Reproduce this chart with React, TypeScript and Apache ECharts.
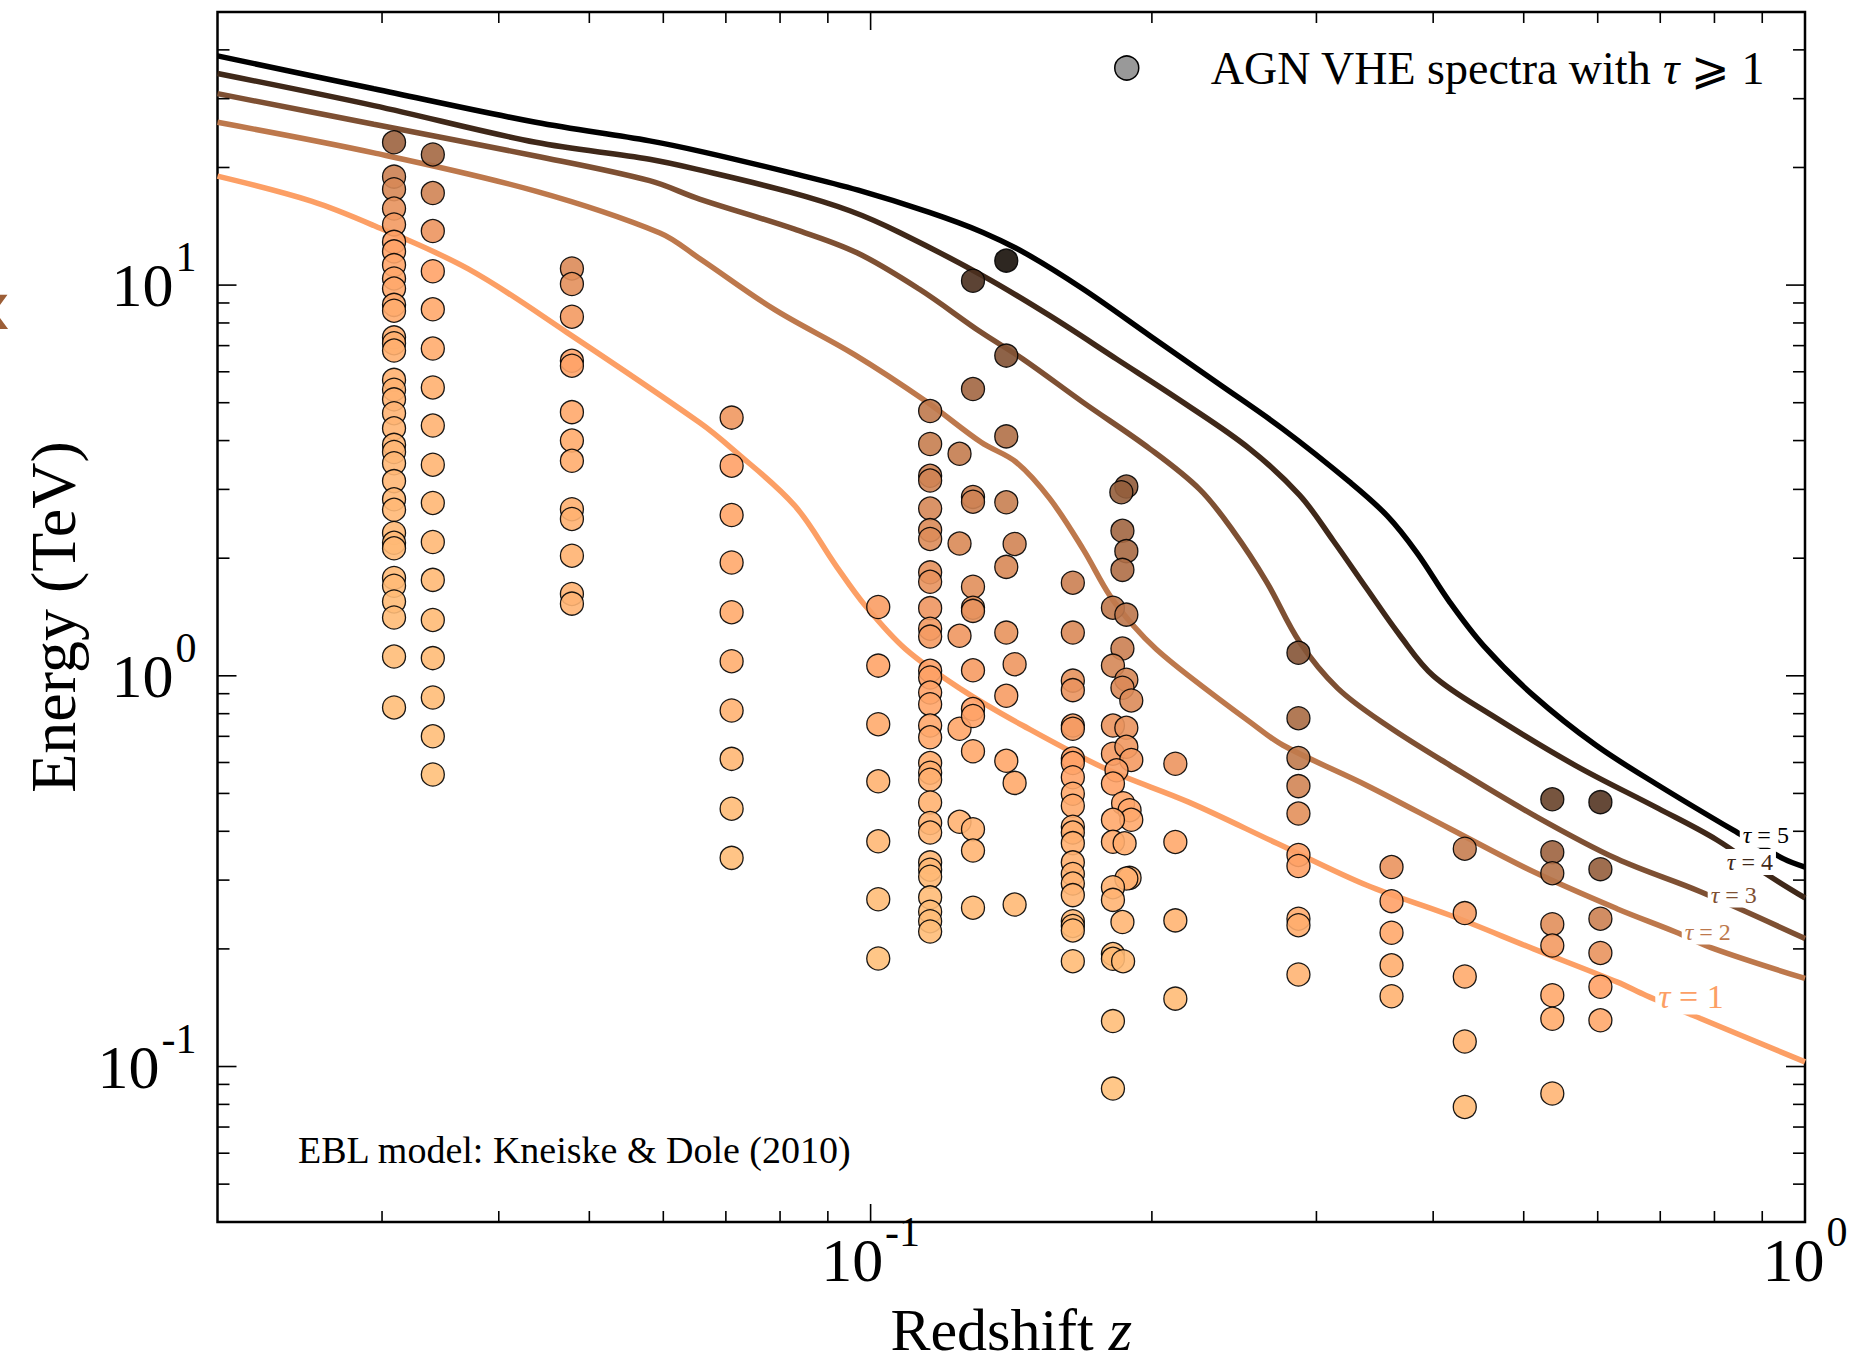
import React, { useEffect, useRef } from 'react';
import * as echarts from 'echarts';

const SERIF = '"Liberation Serif", "Times New Roman", Times, serif';
const LEGEND_NAME = 'AGN VHE spectra';

// Axis extents
const zAxisRange = [0.02, 1];
const eAxisRange = [0.04, 50];

// Tick positions (log axes)
const zMajorTicks = [0.1, 1];
const zMinorTicks = [0.03, 0.04, 0.05, 0.06, 0.07, 0.08, 0.09, 0.2, 0.3, 0.4, 0.5, 0.6, 0.7, 0.8, 0.9];
const eMajorTicks = [0.1, 1, 10];
const eMinorTicks = [0.05, 0.06, 0.07, 0.08, 0.09, 0.2, 0.3, 0.4, 0.5, 0.6, 0.7, 0.8, 0.9, 2, 3, 4, 5, 6, 7, 8, 9, 20, 30, 40];

// Optical-depth horizons τ(E, z) = 1 … 5, as [z, E (TeV)]
const tau1Curve = [
  [0.02, 19.0], [0.0252, 16.4], [0.0294, 14.2], [0.0371, 11.0], [0.0473, 7.57], [0.0656, 4.45],
  [0.0711, 3.81], [0.0829, 2.73], [0.0918, 1.915], [0.0987, 1.512], [0.109, 1.17], [0.1248, 0.926],
  [0.1455, 0.746], [0.1785, 0.578], [0.219, 0.475], [0.2725, 0.372], [0.3397, 0.291], [0.417, 0.2438],
  [0.5123, 0.2], [0.629, 0.1647], [0.676, 0.152], [0.773, 0.1327], [1.0, 0.1028],
];
const tau2Curve = [
  [0.02, 26.1], [0.0294, 21.8], [0.0438, 17.4], [0.0595, 13.6], [0.0656, 11.7], [0.0788, 8.68],
  [0.096, 6.65], [0.1145, 5.05], [0.1313, 3.96], [0.1432, 3.52], [0.1555, 2.84], [0.1688, 2.11],
  [0.1803, 1.605], [0.191, 1.345], [0.2022, 1.17], [0.219, 1.0], [0.255, 0.76], [0.2763, 0.664],
  [0.3397, 0.524], [0.417, 0.406], [0.5123, 0.315], [0.629, 0.2535], [0.727, 0.221], [0.8, 0.2], [1.0, 0.168],
];
const tau3Curve = [
  [0.02, 30.9], [0.0294, 25.8], [0.0438, 21.4], [0.058, 18.5], [0.0656, 16.6], [0.0829, 13.9],
  [0.0967, 12.1], [0.1127, 9.77], [0.1313, 7.57], [0.1455, 6.47], [0.1688, 5.01], [0.199, 3.81],
  [0.225, 3.0], [0.2443, 2.35], [0.2653, 1.74], [0.2878, 1.22], [0.316, 0.93], [0.357, 0.746],
  [0.417, 0.59], [0.5123, 0.44], [0.629, 0.34], [0.773, 0.28], [1.0, 0.2125],
];
const tau4Curve = [
  [0.02, 34.8], [0.0294, 28.8], [0.0438, 23.2], [0.058, 21.0], [0.0663, 19.6], [0.082, 17.3],
  [0.095, 15.5], [0.1074, 13.64], [0.1319, 10.56], [0.1555, 8.35], [0.1833, 6.47], [0.216, 5.01],
  [0.2545, 3.81], [0.2878, 2.9], [0.3126, 2.22], [0.3397, 1.67], [0.3684, 1.27], [0.4002, 1.0],
  [0.4624, 0.792], [0.5676, 0.59], [0.6973, 0.457], [0.805, 0.38], [0.911, 0.31], [1.0, 0.27],
];
const tau5Curve = [
  [0.02, 38.6], [0.0294, 31.8], [0.0438, 26.1], [0.058, 23.4], [0.0663, 21.9], [0.082, 19.4],
  [0.097, 17.5], [0.1156, 15.35], [0.1319, 13.64], [0.147, 12.0], [0.1688, 9.77], [0.199, 7.42],
  [0.2345, 5.64], [0.2763, 4.28], [0.3258, 3.13], [0.357, 2.57], [0.384, 2.07], [0.417, 1.54],
  [0.4528, 1.195], [0.5123, 0.89], [0.5975, 0.664], [0.6973, 0.524], [0.839, 0.402], [0.949, 0.34], [1.0, 0.324],
];
const tauLevels = [1, 2, 3, 4, 5];
const tauCurves = [tau1Curve, tau2Curve, tau3Curve, tau4Curve, tau5Curve];
// Inline contour labels, [z, E]
const tauLabelAt = [[0.755, 0.151], [0.787, 0.2215], [0.839, 0.2754], [0.873, 0.334], [0.908, 0.392]];
const tauLabelSize = [34, 24, 24, 24, 24];

// Spectral points of the AGN sample: energies (TeV) at each redshift
const spectrumZ0309 = [23.2, 18.95, 17.6, 15.7, 14.3, 12.9, 12.2, 11.25, 10.4, 9.8, 8.9, 8.6, 7.35, 7.1, 6.8, 5.72, 5.4, 5.1, 4.7, 4.3, 3.9, 3.74, 3.5, 3.15, 2.83, 2.66, 2.32, 2.19, 2.12, 1.78, 1.7, 1.55, 1.41, 1.12, 0.83];
const spectrumZ0340 = [21.6, 17.2, 13.75, 10.85, 8.67, 6.88, 5.47, 4.37, 3.47, 2.77, 2.2, 1.76, 1.39, 1.11, 0.88, 0.7, 0.559];
const spectrumZ0479 = [11.03, 10.06, 8.3, 6.4, 6.22, 4.73, 4.0, 3.55, 2.67, 2.52, 2.03, 1.62, 1.53];
const spectrumZ0710 = [4.58, 3.45, 2.58, 1.95, 1.455, 1.09, 0.815, 0.613, 0.457, 0.342];
const spectrumZ1019 = [1.5, 1.062, 0.752, 0.537, 0.377, 0.268, 0.189];
const spectrumZ1158 = [4.76, 3.92, 3.25, 3.16, 2.68, 2.36, 2.24, 1.84, 1.74, 1.49, 1.32, 1.26, 1.03, 0.99, 0.906, 0.846, 0.746, 0.696, 0.598, 0.565, 0.542, 0.474, 0.42, 0.397, 0.333, 0.319, 0.306, 0.271, 0.249, 0.2355, 0.2216];
const spectrumZ1245 = [3.7, 2.18, 1.266, 0.732, 0.423];
const spectrumZ1287 = [10.26, 5.42, 2.87, 2.79, 1.69, 1.494, 1.466, 1.033, 0.822, 0.789, 0.641, 0.405, 0.357, 0.255];
const spectrumZ1397 = [11.55, 6.6, 4.1, 2.78, 1.9, 1.29, 0.889, 0.606];
const spectrumZ1426 = [2.175, 1.071, 0.532, 0.2597];
const spectrumZ1646 = [1.731, 1.29, 0.972, 0.919, 0.746, 0.732, 0.614, 0.598, 0.55, 0.499, 0.465, 0.411, 0.397, 0.373, 0.333, 0.311, 0.294, 0.2746, 0.2355, 0.229, 0.223, 0.186];
const spectrumZ2119 = [0.5955, 0.3756, 0.2366, 0.1492];
const spectrumZ2870 = [1.145, 0.779, 0.616, 0.522, 0.444, 0.348, 0.326, 0.239, 0.23, 0.172];
const spectrumZ3610 = [0.324, 0.265, 0.22, 0.1816, 0.1513];
const spectrumZ4324 = [0.361, 0.247, 0.17, 0.1159, 0.0788];
const spectrumZ5365 = [0.483, 0.3536, 0.3125, 0.2314, 0.204, 0.1522, 0.1325, 0.0853];
const spectrumZ6040 = [0.475, 0.32, 0.239, 0.1953, 0.16, 0.1313];
// Several sources near z ≈ 0.18–0.19, as [z, E]
const spectraNearZ018 = [
  [0.1878, 3.05], [0.1855, 2.95], [0.186, 2.35], [0.1878, 2.085], [0.186, 1.867], [0.1817, 1.494],
  [0.1878, 1.434], [0.186, 1.174], [0.1817, 1.062], [0.1878, 0.977], [0.186, 0.932], [0.1901, 0.865],
  [0.1817, 0.746], [0.1878, 0.736], [0.1817, 0.632], [0.1878, 0.658], [0.1901, 0.609], [0.1833, 0.573],
  [0.1817, 0.53], [0.1863, 0.472], [0.1893, 0.453], [0.1901, 0.428], [0.1817, 0.428], [0.1817, 0.376],
  [0.187, 0.3726], [0.1893, 0.304], [0.1878, 0.3027], [0.1817, 0.2877], [0.1817, 0.267], [0.186, 0.2343],
  [0.1817, 0.194], [0.1817, 0.1887], [0.1863, 0.186], [0.1817, 0.1307], [0.1817, 0.0878],
];

const spectraByRedshift: [number, number[]][] = [
  [0.0309, spectrumZ0309], [0.034, spectrumZ0340], [0.0479, spectrumZ0479], [0.071, spectrumZ0710],
  [0.1019, spectrumZ1019], [0.1158, spectrumZ1158], [0.1245, spectrumZ1245], [0.1287, spectrumZ1287],
  [0.1397, spectrumZ1397], [0.1426, spectrumZ1426], [0.1646, spectrumZ1646], [0.2119, spectrumZ2119],
  [0.287, spectrumZ2870], [0.361, spectrumZ3610], [0.4324, spectrumZ4324], [0.5365, spectrumZ5365],
  [0.604, spectrumZ6040],
];

// matplotlib "copper_r" over τ ∈ [0, 5]
function copperR(tau: number): string {
  const x = Math.min(1, Math.max(0, 1 - tau / 5));
  const r = Math.min(1, x * 1.2353);
  const g = 0.7812 * x;
  const b = 0.4975 * x;
  return `rgb(${Math.round(r * 255)},${Math.round(g * 255)},${Math.round(b * 255)})`;
}

// log E of a horizon at redshift z (log–log interpolation)
function curveLogE(curve: number[][], z: number): number {
  const lz = Math.log10(z);
  let i = 0;
  while (i < curve.length - 2 && Math.log10(curve[i + 1][0]) < lz) i++;
  const lz0 = Math.log10(curve[i][0]);
  const lz1 = Math.log10(curve[i + 1][0]);
  const le0 = Math.log10(curve[i][1]);
  const le1 = Math.log10(curve[i + 1][1]);
  return le0 + ((lz - lz0) / (lz1 - lz0)) * (le1 - le0);
}

// Redshift at which a horizon reaches energy e (inverse of curveLogE)
function curveZ(curve: number[][], e: number): number {
  const le = Math.log10(e);
  let i = 0;
  while (i < curve.length - 2 && Math.log10(curve[i + 1][1]) > le) i++;
  const lz0 = Math.log10(curve[i][0]);
  const lz1 = Math.log10(curve[i + 1][0]);
  const le0 = Math.log10(curve[i][1]);
  const le1 = Math.log10(curve[i + 1][1]);
  return Math.pow(10, lz0 + ((le - le0) / (le1 - le0)) * (lz1 - lz0));
}

// Optical depth of a photon of energy e from redshift z
function opticalDepth(z: number, e: number): number {
  const le = Math.log10(e);
  const L = tauCurves.map((c) => curveLogE(c, z));
  // below the τ = 1 horizon τ grows ~ linearly with distance at fixed energy
  if (le <= L[0]) return Math.min(1, z / curveZ(tauCurves[0], e));
  for (let k = 0; k < L.length - 1; k++) {
    if (le < L[k + 1]) return tauLevels[k] + (le - L[k]) / (L[k + 1] - L[k]);
  }
  return tauLevels[tauLevels.length - 1];
}

function powerLabel(v: number): string {
  const p = Math.log10(v);
  const n = Math.round(p);
  if (Math.abs(p - n) > 1e-6) return '';
  return `{b|10}{s|${n}}`;
}

const powerRich = {
  b: { fontFamily: SERIF, fontSize: 62, lineHeight: 62, verticalAlign: 'bottom', color: '#000' },
  s: { fontFamily: SERIF, fontSize: 42, lineHeight: 42, verticalAlign: 'bottom', color: '#000', padding: [0, 0, 38, 2] },
};

function tickSeries(values: number[], horizontal: boolean, len: number) {
  return {
    type: 'custom',
    silent: true,
    clip: false,
    z: 6,
    data: values.map((v) => (horizontal ? [v, eAxisRange[0]] : [zAxisRange[0], v])),
    renderItem: (_p: any, api: any) => {
      const style = { stroke: '#000', lineWidth: 1.6 };
      if (horizontal) {
        const v = api.value(0);
        const b = api.coord([v, eAxisRange[0]]);
        const t = api.coord([v, eAxisRange[1]]);
        return {
          type: 'group',
          children: [
            { type: 'line', shape: { x1: b[0], y1: b[1], x2: b[0], y2: b[1] - len }, style },
            { type: 'line', shape: { x1: t[0], y1: t[1], x2: t[0], y2: t[1] + len }, style },
          ],
        };
      }
      const v = api.value(1);
      const l = api.coord([zAxisRange[0], v]);
      const r = api.coord([zAxisRange[1], v]);
      return {
        type: 'group',
        children: [
          { type: 'line', shape: { x1: l[0], y1: l[1], x2: l[0] + len, y2: l[1] }, style },
          { type: 'line', shape: { x1: r[0], y1: r[1], x2: r[0] - len, y2: r[1] }, style },
        ],
      };
    },
  };
}

export default function App() {
  const ref = useRef<HTMLDivElement>(null);

  useEffect(() => {
    if (!ref.current) return;
    const chart = echarts.init(ref.current, null, { renderer: 'svg' });

    const points: any[] = [];
    spectraByRedshift.forEach(([z, energies]) => energies.forEach((e) => points.push([z, e])));
    spectraNearZ018.forEach((p) => points.push(p));

    const lineSeries = tauCurves.map((c, k) => ({
      type: 'line',
      data: c,
      showSymbol: false,
      symbol: 'none',
      smooth: 0.35,
      silent: true,
      z: 2,
      lineStyle: { color: copperR(tauLevels[k]), width: 5.5 },
    }));

    const labelSeries = {
      type: 'scatter',
      silent: true,
      z: 3,
      symbol: 'circle',
      symbolSize: 1,
      itemStyle: { color: 'rgba(255,255,255,0)' },
      data: tauLabelAt.map((p, k) => {
        const color = copperR(tauLevels[k]);
        const fs = tauLabelSize[k];
        return {
          value: p,
          label: {
            show: true,
            position: 'inside',
            color,
            opacity: 1,
            textBorderWidth: 0,
            formatter: `{i|τ}{n| = ${tauLevels[k]}}`,
            backgroundColor: '#fff',
            padding: [1, 3],
            rich: {
              i: { fontFamily: SERIF, fontStyle: 'italic', fontSize: fs, lineHeight: fs, color, textBorderWidth: 0 },
              n: { fontFamily: SERIF, fontSize: fs, lineHeight: fs, color, textBorderWidth: 0 },
            },
          },
        };
      }),
    };

    const pointSeries = {
      type: 'scatter',
      name: LEGEND_NAME,
      z: 4,
      symbol: 'circle',
      symbolSize: 23,
      itemStyle: { borderColor: '#000', borderWidth: 1.3, opacity: 0.9 },
      data: points.map(([z, e]) => ({ value: [z, e], itemStyle: { color: copperR(opticalDepth(z, e)) } })),
    };

    chart.setOption({
      animation: false,
      backgroundColor: '#fff',
      grid: {
        left: 217.5,
        right: 49,
        top: 12,
        bottom: 142,
        show: true,
        borderColor: '#000',
        borderWidth: 2.5,
        backgroundColor: 'transparent',
        outerBoundsMode: 'none',
      },
      legend: {
        show: true,
        left: 1114,
        top: 45,
        padding: 0,
        selectedMode: false,
        itemWidth: 158,
        itemHeight: 24,
        data: [
          {
            name: LEGEND_NAME,
            icon: 'circle',
            itemStyle: { color: '#999999', borderColor: '#000', borderWidth: 1.5, opacity: 1 },
          },
        ],
        formatter: () => 'AGN VHE spectra with {i|τ} ⩾ 1',
        textStyle: {
          fontFamily: SERIF,
          fontSize: 46,
          lineHeight: 46,
          color: '#000',
          rich: { i: { fontFamily: SERIF, fontStyle: 'italic', fontSize: 46, lineHeight: 46, color: '#000' } },
        },
      },
      xAxis: {
        type: 'log',
        logBase: 10,
        min: zAxisRange[0],
        max: zAxisRange[1],
        axisLine: { show: false },
        axisTick: { show: false },
        splitLine: { show: false },
        axisLabel: { margin: 7, formatter: powerLabel, rich: powerRich },
        name: 'Redshift {i|z}',
        nameLocation: 'middle',
        nameGap: 83,
        nameTextStyle: {
          fontFamily: SERIF,
          fontSize: 60,
          lineHeight: 50,
          color: '#000',
          rich: { i: { fontFamily: SERIF, fontStyle: 'italic', fontSize: 60, lineHeight: 50, color: '#000' } },
        },
      },
      yAxis: {
        type: 'log',
        logBase: 10,
        min: eAxisRange[0],
        max: eAxisRange[1],
        axisLine: { show: false },
        axisTick: { show: false },
        splitLine: { show: false },
        axisLabel: { margin: 21, formatter: powerLabel, rich: powerRich },
        name: 'Energy (TeV)',
        nameLocation: 'middle',
        nameRotate: 90,
        nameGap: 132,
        nameTextStyle: { fontFamily: SERIF, fontSize: 64, lineHeight: 64, color: '#000' },
      },
      graphic: [
        {
          type: 'text',
          x: 298,
          y: 1150,
          silent: true,
          style: {
            text: 'EBL model: Kneiske & Dole (2010)',
            font: `38px ${SERIF}`,
            fill: '#000',
            align: 'left',
            verticalAlign: 'middle',
          },
        },
        {
          type: 'text',
          x: -31,
          y: 307,
          silent: true,
          style: { text: 'x', font: 'bold 62px "DejaVu Sans"', fill: '#9C5E37', align: 'left', verticalAlign: 'middle' },
        },
      ],
      series: [
        ...lineSeries,
        labelSeries,
        pointSeries,
        tickSeries(zMajorTicks, true, 18),
        tickSeries(zMinorTicks, true, 11),
        tickSeries(eMajorTicks, false, 19),
        tickSeries(eMinorTicks, false, 12),
      ],
    });

    return () => chart.dispose();
  }, []);

  return (
    <div
      ref={ref}
      style={{ position: 'fixed', left: 0, top: 0, width: 1854, height: 1364, background: '#fff' }}
    />
  );
}
